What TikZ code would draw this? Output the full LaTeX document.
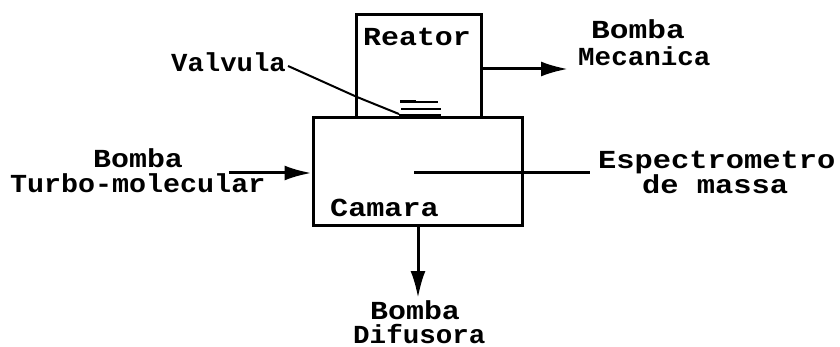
\documentclass[tikz,border=0pt]{standalone}
\usepackage{fontspec}
\usepackage{graphicx}
\setmainfont{Liberation Mono}
\usetikzlibrary{arrows.meta}
\tikzset{
  box/.style={draw=black,line width=3pt,minimum width=#1,inner sep=0pt,line join=miter},
  lbl/.style={anchor=base west,inner sep=0pt,font=\fontsize{26}{26}\selectfont\bfseries,text=black},
  conn/.style={draw=black,line width=3pt},
  arrow/.style={conn,-{Latex[length=27pt,width=15pt]}},
  leader/.style={draw=black,line width=2pt},
  valvebar/.style={draw=black,line width=2pt}
}
\newcommand{\sx}[2]{\scalebox{#1}[1]{#2}}
\begin{document}
\begin{tikzpicture}[x=1pt,y=-1pt]
\useasboundingbox[fill=white] (0,0) rectangle (840,347);
% boxes
\node[box=125pt,minimum height=103pt] (reator) at (418.5,66.5) {};
\node[box=209pt,minimum height=108pt] (camara) at (417.5,172) {};
% labels
\node[lbl] (treator) at (363,46) {\sx{1.15}{Reator}};
\node[lbl] (tcamara) at (330,217) {\sx{1.16}{Camara}};
\node[lbl] (tvalvula) at (171,72) {\sx{1.05}{Valvula}};
\node[lbl] (tbm1) at (591,39) {\sx{1.2}{Bomba}};
\node[lbl] (tbm2) at (578,66) {\sx{1.06}{Mecanica}};
\node[lbl] (tbt1) at (93,168) {\sx{1.15}{Bomba}};
\node[lbl] (tbt2) at (10,193) {\sx{1.09}{Turbo-molecular}};
\node[lbl] (te1) at (598,169) {\sx{1.17}{Espectrometro}};
\node[lbl] (te2) at (642,194) {\sx{1.17}{de massa}};
\node[lbl] (tbd1) at (370,319) {\sx{1.15}{Bomba}};
\node[lbl] (tbd2) at (353,343) {\sx{1.06}{Difusora}};
% connector ends
\coordinate (mecEnd) at (568,69);
\coordinate (turboStart) at (229,173);
\coordinate (espStart) at (414,173);
\coordinate (espEnd) at (590,173);
\coordinate (difEnd) at (418,298);
\coordinate (valveA) at (399,114);
% connectors
\draw[arrow] (reator.east |- mecEnd) -- (mecEnd);
\draw[arrow] (turboStart) -- (camara.west |- turboStart);
\draw[conn] (espStart) -- (espEnd);
\draw[arrow] (camara.south -| difEnd) -- (difEnd);
\draw[leader] (tvalvula.base east) ++(2,-6) -- (357,97) -- (valveA);
% valve
\draw[valvebar] (400,102) -- (438,102);
\draw[valvebar,line width=3.5pt] (400,101.5) -- (416,101.5);
\draw[valvebar] (401,109.5) -- (441,109.5);
\draw[valvebar,line width=3pt] (399,116) -- (441,116);
\end{tikzpicture}
\end{document}
